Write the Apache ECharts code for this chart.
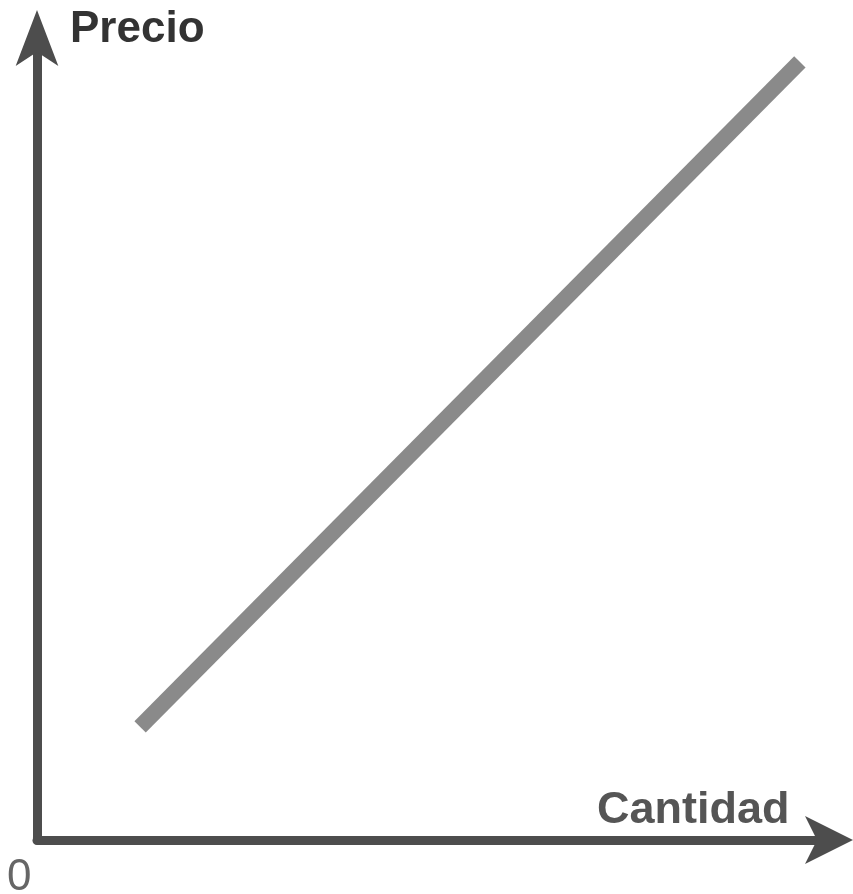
<!DOCTYPE html>
<html>
<head>
<meta charset="utf-8">
<script src="https://cdn.jsdelivr.net/npm/echarts@6/dist/echarts.min.js"></script>
<style>
  html, body { margin: 0; padding: 0; background: #fff; }
  #chart { width: 853px; height: 894px; }
</style>
</head>
<body>
<div id="chart"></div>
<script>
// supply line: two end points (axis units 0..100)
const cantidad = [13.0, 96.2];
const precio = [14.1, 96.9];
const originLabel = '0';

const chart = echarts.init(document.getElementById('chart'));

const axisColor = '#4d4d4d';

const option = {
  backgroundColor: '#fff',
  animation: false,
  grid: { left: 37, right: 23, top: 37, bottom: 54 },
  xAxis: {
    type: 'value',
    min: 0,
    max: 100,
    axisLine: {
      show: true,
      symbol: ['none', 'arrow'],
      symbolSize: [36, 48],
      symbolOffset: [0, 23],
      lineStyle: { color: axisColor, width: 9 }
    },
    axisTick: { show: false },
    axisLabel: { show: false },
    splitLine: { show: false }
  },
  yAxis: {
    type: 'value',
    min: 0,
    max: 100,
    axisLine: {
      show: true,
      symbol: ['none', 'arrow'],
      symbolSize: [32, 56],
      symbolOffset: [0, 27],
      lineStyle: { color: axisColor, width: 9 }
    },
    axisTick: { show: false },
    axisLabel: { show: false },
    splitLine: { show: false }
  },
  series: [{
    type: 'line',
    data: cantidad.map((q, i) => [q, precio[i]]),
    symbol: 'none',
    lineStyle: { color: '#8a8a8a', width: 16, cap: 'butt' }
  }],
  graphic: [
    {
      type: 'text', left: 70, top: 8,
      style: { text: 'Precio', fill: '#333', font: 'bold 44px "Liberation Sans", Arial, sans-serif' }
    },
    {
      type: 'text', left: 597, top: 788,
      style: { text: 'Cantidad', fill: '#555', font: 'bold 45px "Liberation Sans", Arial, sans-serif' }
    },
    {
      type: 'text', left: 7, top: 856,
      style: { text: originLabel, fill: '#666', font: '44px "Liberation Sans", Arial, sans-serif' }
    }
  ]
};

chart.setOption(option);
</script>
</body>
</html>
